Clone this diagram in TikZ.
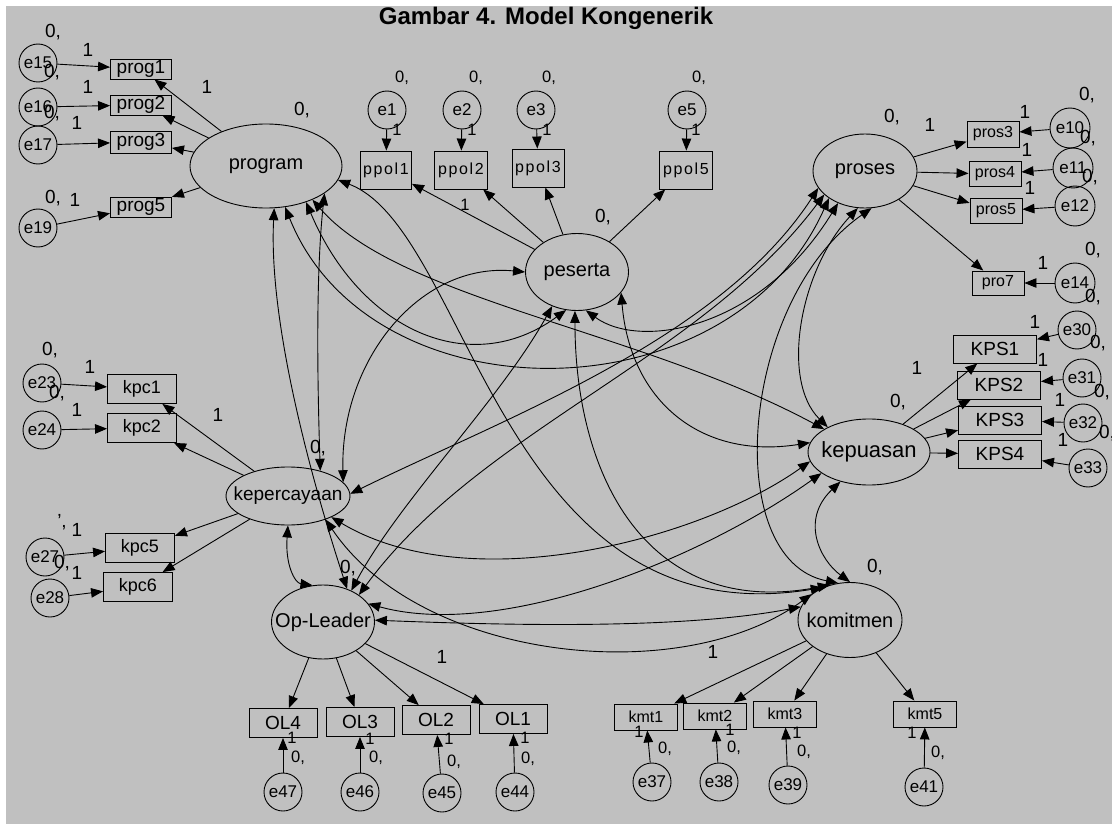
\documentclass[tikz,border=0pt]{standalone}
\usepackage{fontspec}
\setmainfont{Liberation Sans}
\newfontfamily\spacedfont[LetterSpace=10]{Liberation Sans}
\usetikzlibrary{shapes.geometric,arrows.meta}
\definecolor{panel}{HTML}{C0C0C0}
\newcounter{lblc}
\newcommand\lbl[4][num]{\stepcounter{lblc}\node[#1] (lbl\arabic{lblc}) at (#2,-#3) {#4};}
\begin{document}
\begin{tikzpicture}[x=1pt,y=1pt,
  >={Triangle[length=12pt,width=9.5pt]},
  lat/.style={ellipse,draw,line width=.9pt,inner sep=0pt,font=\fontsize{20}{22}\selectfont},
  obs/.style={rectangle,draw,line width=.9pt,inner sep=0pt,font=\fontsize{17}{19}\selectfont},
  err/.style={circle,draw,line width=.9pt,inner sep=0pt,minimum size=38pt,font=\fontsize{17}{19}\selectfont},
  num/.style={inner sep=0pt,font=\fontsize{19}{21}\selectfont},
  snum/.style={inner sep=0pt,font=\fontsize{16.5}{18}\selectfont},
  ld/.style={->,line width=.9pt},
  cov/.style={<->,line width=.9pt}]

% canvas
\fill[white] (0,0) rectangle (1112,-824);
\fill[panel] (6,-6) rectangle (1112,-824);
\useasboundingbox (0,0) rectangle (1112,-824);

\node[font=\bfseries\fontsize{24}{26}\selectfont] (title) at (546,-18) {Gambar 4. Model Kongenerik};

% latent variables
\node[lat,minimum width=152pt,minimum height=84pt] (P) at (266,-166) {\makebox[0pt]{program}};
\node[lat,minimum width=103pt,minimum height=77pt] (S) at (577,-272) {\makebox[0pt]{peserta}};
\node[lat,minimum width=104pt,minimum height=74pt] (R) at (865,-171) {\makebox[0pt]{proses}};
\node[lat,minimum width=124pt,minimum height=58pt,font=\fontsize{19}{21}\selectfont] (K) at (288,-496) {\makebox[0pt]{kepercayaan}};
\node[lat,minimum width=122pt,minimum height=66pt,font=\fontsize{22}{24}\selectfont] (U) at (869,-452) {\makebox[0pt]{kepuasan}};
\node[lat,minimum width=103pt,minimum height=74pt] (O) at (323,-622) {\makebox[0pt]{Op-Leader}};
\node[lat,minimum width=104pt,minimum height=75pt] (M) at (850,-620) {\makebox[0pt]{komitmen}};

% program indicators
\tikzset{pg/.style={obs,font=\fontsize{19}{21}\selectfont,minimum width=61pt,minimum height=20pt}}
\node[pg] (prog1) at (141,-69) {prog1};
\node[pg] (prog2) at (141,-105) {prog2};
\node[pg,minimum height=22pt] (prog3) at (141,-142) {prog3};
\node[pg] (prog5) at (141,-207) {prog5};
\node[err] (e15) at (38,-63) {e15};
\node[err] (e16) at (38,-107) {e16};
\node[err] (e17) at (38,-145) {e17};
\node[err] (e19) at (38,-228) {e19};
\foreach \a/\b in {e15/prog1,e16/prog2,e17/prog3,e19/prog5} \draw[ld] (\a) -- (\b);
\foreach \b in {prog1,prog2,prog3,prog5} \draw[ld] (P) -- (\b);

% peserta indicators
\tikzset{pp/.style={obs,font=\spacedfont\fontsize{16}{18}\selectfont,minimum height=38pt}}
\node[pp,minimum width=51pt] (ppol1) at (386,-170) {ppol1};
\node[pp,minimum width=53pt] (ppol2) at (461,-170) {ppol2};
\node[pp,minimum width=52pt] (ppol3) at (538,-168) {ppol3};
\node[pp,minimum width=53pt] (ppol5) at (686,-170) {ppol5};
\node[err] (e1) at (387,-110) {e1};
\node[err] (e2) at (462,-110) {e2};
\node[err] (e3) at (536,-110) {e3};
\node[err] (e5) at (687,-110) {e5};
\foreach \a/\b in {e1/ppol1,e2/ppol2,e3/ppol3,e5/ppol5} \draw[ld] (\a) -- (\b);
\foreach \b in {ppol1,ppol2,ppol3,ppol5} \draw[ld] (S) -- (\b);

% proses indicators
\tikzset{pr/.style={obs,font=\fontsize{16}{18}\selectfont,minimum width=52pt}}
\node[pr,minimum height=26pt] (pros3) at (993,-134) {pros3};
\node[pr,minimum height=25pt] (pros4) at (995,-174) {pros4};
\node[pr,minimum height=25pt] (pros5) at (996,-211) {pros5};
\node[pr,minimum height=24pt] (pro7) at (998,-283) {pro7};
\node[err,minimum size=40pt] (e10) at (1070,-128) {e10};
\node[err,minimum size=40pt] (e11) at (1073,-168) {e11};
\node[err,minimum size=40pt] (e12) at (1075,-206) {e12};
\node[err,minimum size=40pt] (e14) at (1075,-283) {e14};
\foreach \a/\b in {e10/pros3,e11/pros4,e12/pros5,e14/pro7} \draw[ld] (\a) -- (\b);
\foreach \b in {pros3,pros4,pros5,pro7} \draw[ld] (R) -- (\b);

% kepercayaan indicators
\tikzset{kp/.style={obs,font=\fontsize{18}{20}\selectfont,minimum width=69pt,minimum height=29pt}}
\node[kp] (kpc1) at (142,-389) {kpc1};
\node[kp] (kpc2) at (142,-428) {kpc2};
\node[kp] (kpc5) at (140,-548) {kpc5};
\node[kp] (kpc6) at (138,-587) {kpc6};
\node[err] (e23) at (42,-383) {e23};
\node[err] (e24) at (42,-430) {e24};
\node[err] (e27) at (45,-557) {e27};
\node[err] (e28) at (50,-598) {e28};
\foreach \a/\b in {e23/kpc1,e24/kpc2,e27/kpc5,e28/kpc6} \draw[ld] (\a) -- (\b);
\foreach \b in {kpc1,kpc2,kpc5,kpc6} \draw[ld] (K) -- (\b);

% kepuasan indicators
\tikzset{ks/.style={obs,font=\fontsize{19}{21}\selectfont,minimum width=83pt,minimum height=28pt}}
\node[ks] (KPS1) at (995,-349) {KPS1};
\node[ks] (KPS2) at (999,-385) {KPS2};
\node[ks] (KPS3) at (1000,-420) {KPS3};
\node[ks] (KPS4) at (1000,-454) {KPS4};
\node[err] (e30) at (1077,-330) {e30};
\node[err] (e31) at (1082,-378) {e31};
\node[err] (e32) at (1083,-423) {e32};
\node[err] (e33) at (1088,-468) {e33};
\foreach \a/\b in {e30/KPS1,e31/KPS2,e32/KPS3,e33/KPS4} \draw[ld] (\a) -- (\b);
\foreach \b in {KPS1,KPS2,KPS3,KPS4} \draw[ld] (U) -- (\b);

% Op-Leader indicators
\tikzset{ol/.style={obs,font=\fontsize{19}{21}\selectfont,minimum width=68pt,minimum height=29pt}}
\node[ol] (OL4) at (283,-723) {OL4};
\node[ol] (OL3) at (360,-722) {OL3};
\node[ol] (OL2) at (436,-720) {OL2};
\node[ol] (OL1) at (513,-719) {OL1};
\node[err] (e47) at (283,-792) {e47};
\node[err] (e46) at (360,-792) {e46};
\node[err] (e45) at (442,-793) {e45};
\node[err] (e44) at (515,-792) {e44};
\foreach \a/\b in {e47/OL4,e46/OL3,e45/OL2,e44/OL1} \draw[ld] (\a) -- (\b);
\foreach \b in {OL4,OL3,OL2,OL1} \draw[ld] (O) -- (\b);

% komitmen indicators
\tikzset{km/.style={obs,font=\fontsize{16}{18}\selectfont,minimum width=63pt,minimum height=26pt}}
\node[km] (kmt1) at (646,-717) {kmt1};
\node[km] (kmt2) at (715,-716) {kmt2};
\node[km] (kmt3) at (785,-714) {kmt3};
\node[km] (kmt5) at (925,-714) {kmt5};
\node[err] (e37) at (652,-782) {e37};
\node[err] (e38) at (719,-782) {e38};
\node[err] (e39) at (788,-785) {e39};
\node[err] (e41) at (924,-787) {e41};
\foreach \a/\b in {e37/kmt1,e38/kmt2,e39/kmt3,e41/kmt5} \draw[ld] (\a) -- (\b);
\foreach \b in {kmt1,kmt2,kmt3,kmt5} \draw[ld] (M) -- (\b);

% covariances between the latent variables
\draw[cov] (P.-79)  .. controls (268,-330) and (318,-500) .. (O.54);
\draw[cov] (P.-65)  .. controls (370,-420) and (730,-420) .. (R.-143);
\draw[cov] (P.-42)  .. controls (360,-330) and (470,-380) .. (S.-106);
\draw[cov] (P.-36)  .. controls (400,-300) and (640,-330) .. (U.153);
\draw[cov] (P.-25)  .. controls (315,-280) and (318,-400) .. (K.38);
\draw[cov] (P.-11)  .. controls (470,-230) and (500,-640) .. (M.130);
\draw[cov] (S.180)  .. controls (420,-262) and (340,-360) .. (K.14);
\draw[cov] (S.-126) .. controls (500,-400) and (400,-500) .. (O.48);
\draw[cov] (S.-93)  .. controls (575,-480) and (650,-620) .. (M.120);
\draw[cov] (S.-77)  .. controls (640,-350) and (760,-330) .. (R.-130);
\draw[cov] (S.-25)  .. controls (630,-400) and (700,-460) .. (U.171);
\draw[cov] (R.-160) .. controls (720,-340) and (500,-420) .. (K.2);
\draw[cov] (R.-150) .. controls (700,-360) and (480,-430) .. (O.37);
\draw[cov] (R.-101) .. controls (800,-270) and (780,-380) .. (U.149);
\draw[cov] (R.-80)  .. controls (740,-300) and (720,-560) .. (M.108);
\draw[cov] (K.-26)  .. controls (470,-600) and (700,-540) .. (U.-171);
\draw[cov] (K.-32)  .. controls (420,-660) and (680,-690) .. (M.146);
\draw[cov] (K.-90)  .. controls (285,-565) and (295,-583) .. (O.106);
\draw[cov] (U.-156) .. controls (700,-560) and (500,-640) .. (O.22);
\draw[cov] (U.-134) .. controls (800,-520) and (820,-560) .. (M.90);
\draw[cov] (O.2)    .. controls (500,-625) and (680,-630) .. (M.165);

% estimates: program block
\lbl{53}{32}{0,} \lbl{88}{50}{1}
\lbl{52}{72}{0,} \lbl{88}{87}{1}
\lbl{52}{113}{0,} \lbl{77}{123}{1}
\lbl{53}{198}{0,} \lbl{75}{200}{1}
\lbl{207}{87}{1} \lbl{302}{110}{0,}
% peserta block
\lbl[snum]{402}{78}{0,} \lbl[snum]{476}{78}{0,} \lbl[snum]{549}{78}{0,} \lbl[snum]{699}{78}{0,}
\lbl[snum]{397}{130}{1} \lbl[snum]{472}{130}{1} \lbl[snum]{547}{130}{1} \lbl[snum]{696}{130}{1}
\lbl[snum]{465}{205}{1}
\lbl{603}{217}{0,}
% proses block
\lbl{892}{117}{0,} \lbl{930}{125}{1}
\lbl{1087}{95}{0,} \lbl{1025}{112}{1}
\lbl{1088}{138}{0,} \lbl{1027}{150}{1}
\lbl{1090}{177}{0,} \lbl{1030}{188}{1}
\lbl{1093}{250}{0,} \lbl{1043}{263}{1}
% kepuasan block
\lbl{1093}{297}{0,} \lbl{1035}{322}{1}
\lbl{1098}{343}{0,} \lbl{1043}{360}{1}
\lbl{1102}{392}{0,} \lbl{1060}{400}{1}
\lbl{1107}{433}{0,} \lbl{1063}{440}{1}
\lbl{917}{368}{1} \lbl{898}{402}{0,}
% kepercayaan block
\lbl{50}{350}{0,} \lbl{90}{367}{1}
\lbl{57}{393}{0,} \lbl{77}{410}{1}
\lbl{62}{522}{',} \lbl{77}{530}{1}
\lbl{62}{563}{0,} \lbl{77}{573}{1}
\lbl{218}{415}{1}
\lbl{318}{448}{0,}
\lbl{348}{568}{0,}
% Op-Leader block
\lbl{442}{657}{1}
\lbl[snum]{292}{738}{1} \lbl[snum]{298}{758}{0,}
\lbl[snum]{370}{739}{1} \lbl[snum]{376}{758}{0,}
\lbl[snum]{449}{739}{1} \lbl[snum]{454}{762}{0,}
\lbl[snum]{525}{738}{1} \lbl[snum]{528}{759}{0,}
% komitmen block
\lbl{713}{652}{1}
\lbl[snum]{639}{732}{1} \lbl[snum]{665}{749}{0,}
\lbl[snum]{730}{730}{1} \lbl[snum]{734}{748}{0,}
\lbl[snum]{797}{733}{1} \lbl[snum]{804}{752}{0,}
\lbl[snum]{912}{733}{1} \lbl[snum]{938}{753}{0,}
\lbl{875}{567}{0,}
\end{tikzpicture}
\end{document}
